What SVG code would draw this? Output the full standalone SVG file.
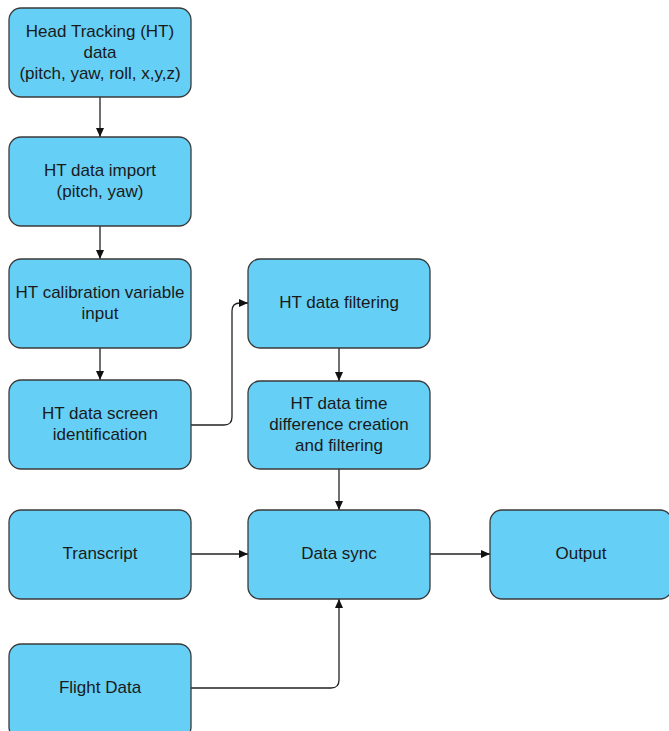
<svg xmlns="http://www.w3.org/2000/svg" width="669" height="731" viewBox="0 0 669 731">
  <style>
    .box { fill: #66cff5; stroke: #3a3a3a; stroke-width: 1.3; }
    .lbl { font-family: "Liberation Sans", Arial, sans-serif; font-size: 17px; fill: #1a1a1a; text-anchor: middle; }
    .conn { fill: none; stroke: #222; stroke-width: 1.3; }
  </style>
  <defs>
    <marker id="arrow" markerWidth="10" markerHeight="10" refX="9" refY="5" orient="auto" markerUnits="userSpaceOnUse">
      <path d="M0,1 L9,5 L0,9 Z" fill="#111"/>
    </marker>
  </defs>
  <rect width="669" height="731" fill="#ffffff"/>

  <g id="connectors">
    <path class="conn" d="M100,97 V137" marker-end="url(#arrow)"/>
    <path class="conn" d="M100,226 V259" marker-end="url(#arrow)"/>
    <path class="conn" d="M100,348 V380" marker-end="url(#arrow)"/>
    <path class="conn" d="M191,425 H224 Q232,425 232,417 V311 Q232,303 240,303 H248" marker-end="url(#arrow)"/>
    <path class="conn" d="M339,348 V381" marker-end="url(#arrow)"/>
    <path class="conn" d="M339,469 V510" marker-end="url(#arrow)"/>
    <path class="conn" d="M191,554 H248" marker-end="url(#arrow)"/>
    <path class="conn" d="M430,554 H490" marker-end="url(#arrow)"/>
    <path class="conn" d="M191,688 H331 Q339,688 339,680 V599" marker-end="url(#arrow)"/>
  </g>

  <g id="head-tracking">
    <rect class="box" x="9" y="8" width="182" height="89" rx="12"/>
    <text class="lbl" x="100" y="37">Head Tracking (HT)</text>
    <text class="lbl" x="100" y="58">data</text>
    <text class="lbl" x="100" y="79">(pitch, yaw, roll, x,y,z)</text>
  </g>

  <g id="ht-import">
    <rect class="box" x="9" y="137" width="182" height="89" rx="12"/>
    <text class="lbl" x="100" y="176">HT data import</text>
    <text class="lbl" x="100" y="197">(pitch, yaw)</text>
  </g>

  <g id="ht-calibration">
    <rect class="box" x="9" y="259" width="182" height="89" rx="12"/>
    <text class="lbl" x="100" y="298">HT calibration variable</text>
    <text class="lbl" x="100" y="319">input</text>
  </g>

  <g id="ht-screen">
    <rect class="box" x="9" y="380" width="182" height="89" rx="12"/>
    <text class="lbl" x="100" y="419">HT data screen</text>
    <text class="lbl" x="100" y="440">identification</text>
  </g>

  <g id="ht-filtering">
    <rect class="box" x="248" y="259" width="182" height="89" rx="12"/>
    <text class="lbl" x="339" y="308">HT data filtering</text>
  </g>

  <g id="ht-time-diff">
    <rect class="box" x="248" y="381" width="182" height="88" rx="12"/>
    <text class="lbl" x="339" y="409">HT data time</text>
    <text class="lbl" x="339" y="430">difference creation</text>
    <text class="lbl" x="339" y="451">and filtering</text>
  </g>

  <g id="transcript">
    <rect class="box" x="9" y="510" width="182" height="89" rx="12"/>
    <text class="lbl" x="100" y="559">Transcript</text>
  </g>

  <g id="data-sync">
    <rect class="box" x="248" y="510" width="182" height="89" rx="12"/>
    <text class="lbl" x="339" y="559">Data sync</text>
  </g>

  <g id="output">
    <rect class="box" x="490" y="510" width="182" height="89" rx="12"/>
    <text class="lbl" x="581" y="559">Output</text>
  </g>

  <g id="flight-data">
    <rect class="box" x="9" y="644" width="182" height="95" rx="12"/>
    <text class="lbl" x="100" y="693">Flight Data</text>
  </g>
</svg>
